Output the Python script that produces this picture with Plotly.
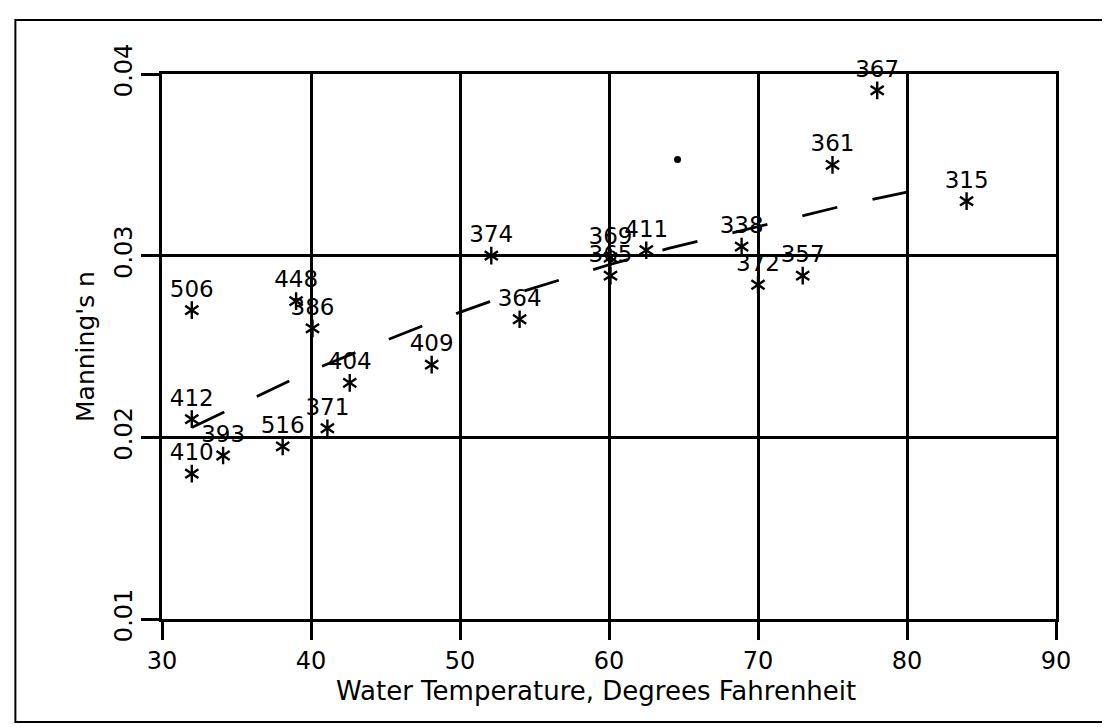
import plotly.graph_objects as go

# -----------------------------------------
# DATA
# -----------------------------------------
station = ["506", "448", "386", "412", "410", "393", "516", "371", "404", "409",
           "374", "364", "369", "365", "411", "338", "372", "357", "361", "367", "315"]
water_temp = [32, 39, 40.1, 32, 32, 34.1, 38.1, 41.1, 42.6, 48.1,
              52.1, 54, 60.1, 60.1, 62.5, 68.9, 70, 73, 75, 78, 84]
manning_n = [0.027, 0.0275, 0.026, 0.021, 0.018, 0.019, 0.0195, 0.0205, 0.023, 0.024,
             0.030, 0.0265, 0.0299, 0.0289, 0.0303, 0.0305, 0.0284, 0.0289, 0.035, 0.0391, 0.033]

# fitted curve (dashed)
trend_x = [32, 36, 40, 44, 48, 52, 56, 60, 64, 68, 72, 76, 80]
trend_y = [0.02054, 0.0221, 0.02367, 0.0250, 0.0263, 0.02747, 0.0285,
           0.0295, 0.0304, 0.0312, 0.0320, 0.0328, 0.0335]

# stray dot on the scan
dot_x = [64.6]
dot_y = [0.0353]

x_ticks = [30, 40, 50, 60, 70, 80, 90]
y_ticks = [0.01, 0.02, 0.03, 0.04]

FONT = "DejaVu Sans"

fig = go.Figure()

fig.add_trace(go.Scatter(
    x=trend_x, y=trend_y, mode="lines",
    line=dict(color="black", width=2.8, dash="36px,36px"),
    hoverinfo="skip", showlegend=False,
))

# 6-armed "*" = y-up + y-down drawn on top of each other
fig.add_trace(go.Scatter(
    x=water_temp, y=manning_n, mode="markers",
    marker=dict(symbol="y-down-open", size=11, color="black",
                line=dict(color="black", width=2.4)),
    hoverinfo="skip", showlegend=False,
))
fig.add_trace(go.Scatter(
    x=water_temp, y=manning_n, mode="markers+text",
    text=station, textposition="top center", cliponaxis=False,
    textfont=dict(family=FONT, size=23, color="black"),
    marker=dict(symbol="y-up-open", size=11, color="black",
                line=dict(color="black", width=2.4)),
    showlegend=False,
))

fig.add_trace(go.Scatter(
    x=dot_x, y=dot_y, mode="markers",
    marker=dict(symbol="circle", size=7, color="black"),
    hoverinfo="skip", showlegend=False,
))

# outer frame of the scanned figure
fig.add_shape(type="rect", xref="paper", yref="paper",
              x0=-0.164, x1=1.058, y0=-0.189, y1=1.099,
              line=dict(color="black", width=2))

# x-axis title as annotation (sits a little left of centre on the original)
fig.add_annotation(
    text="Water Temperature, Degrees Fahrenheit",
    xref="paper", yref="paper", x=0.485, y=-0.132,
    xanchor="center", yanchor="middle", showarrow=False,
    font=dict(family=FONT, size=26, color="black"),
)

axis_common = dict(
    showgrid=True, gridcolor="black", gridwidth=2.5,
    showline=True, linecolor="black", linewidth=2.5, mirror=True,
    ticks="outside", ticklen=18, tickwidth=2.5, tickcolor="black",
    tickfont=dict(family=FONT, size=24, color="black"),
    zeroline=False,
)

fig.update_xaxes(
    range=[30, 90], tickvals=x_ticks, ticktext=[str(v) for v in x_ticks],
    **axis_common,
)
fig.update_yaxes(
    range=[0.01, 0.04], tickvals=y_ticks, ticktext=["0.01", "0.02", "0.03", "0.04"],
    tickangle=-90,
    title=dict(text="Manning's n",
               font=dict(family=FONT, size=25, color="black"), standoff=8),
    **axis_common,
)

fig.update_layout(
    width=1110, height=727,
    margin=dict(l=154, r=62, t=66, b=116),
    plot_bgcolor="white", paper_bgcolor="white",
    font=dict(family=FONT, color="black"),
)

fig.write_html("out.html")
